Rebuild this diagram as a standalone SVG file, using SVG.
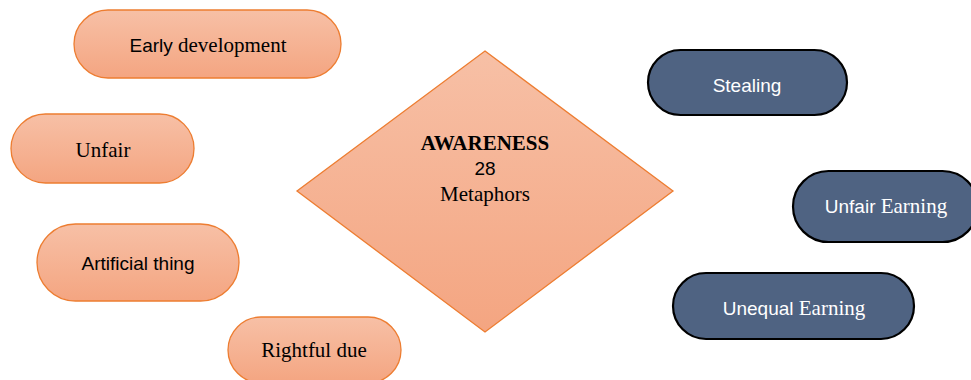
<svg xmlns="http://www.w3.org/2000/svg" width="971" height="380" viewBox="0 0 971 380">
<defs>
<linearGradient id="og" x1="0" y1="0" x2="0" y2="1">
<stop offset="0" stop-color="#F7C0A6"/>
<stop offset="1" stop-color="#F4A581"/>
</linearGradient>
<style>
.o{fill:url(#og);stroke:#ED7D31;stroke-width:1.3}
.d{fill:#4F6382;stroke:#000;stroke-width:2.2}
.sf{font-family:"Liberation Serif",serif;font-size:21px}
.ss{font-family:"Liberation Sans",sans-serif;font-size:19px}
.t{fill:#000;text-anchor:middle}
.w{fill:#fff;text-anchor:middle}
</style>
</defs>
<rect width="971" height="380" fill="#fff"/>
<g id="connectors"></g>
<g id="early">
<rect class="o" x="74" y="10" width="267" height="68" rx="34"/>
<text class="t" x="208" y="52"><tspan class="ss">Early</tspan><tspan class="sf"> development</tspan></text>
</g>
<g id="unfair">
<rect class="o" x="11" y="114" width="183" height="69" rx="34.5"/>
<text class="t sf" x="103" y="157">Unfair</text>
</g>
<g id="artificial">
<rect class="o" x="37" y="224" width="202" height="77" rx="38.5"/>
<text class="t ss" x="138" y="270" font-size="20">Artificial thing</text>
</g>
<g id="rightful">
<rect class="o" x="228" y="317" width="173" height="66" rx="33"/>
<text class="t sf" x="314" y="357">Rightful due</text>
</g>
<g id="awareness">
<polygon class="o" points="485,51 673,191 485,332 297,191"/>
<text class="t sf" x="485" y="150" font-weight="bold">AWARENESS</text>
<text class="t ss" x="485" y="175">28</text>
<text class="t sf" x="485" y="201">Metaphors</text>
</g>
<g id="stealing">
<rect class="d" x="648" y="50" width="199" height="65" rx="32.5"/>
<text class="w ss" x="747" y="92">Stealing</text>
</g>
<g id="unfairearning">
<rect class="d" x="793" y="171" width="185" height="71" rx="35.5"/>
<text class="w" x="886" y="213"><tspan class="ss">Unfair</tspan><tspan class="sf"> Earning</tspan></text>
</g>
<g id="unequal">
<rect class="d" x="673" y="273" width="241" height="66" rx="33"/>
<text class="w" x="794" y="315"><tspan class="ss">Unequal</tspan><tspan class="sf"> Earning</tspan></text>
</g>
</svg>
